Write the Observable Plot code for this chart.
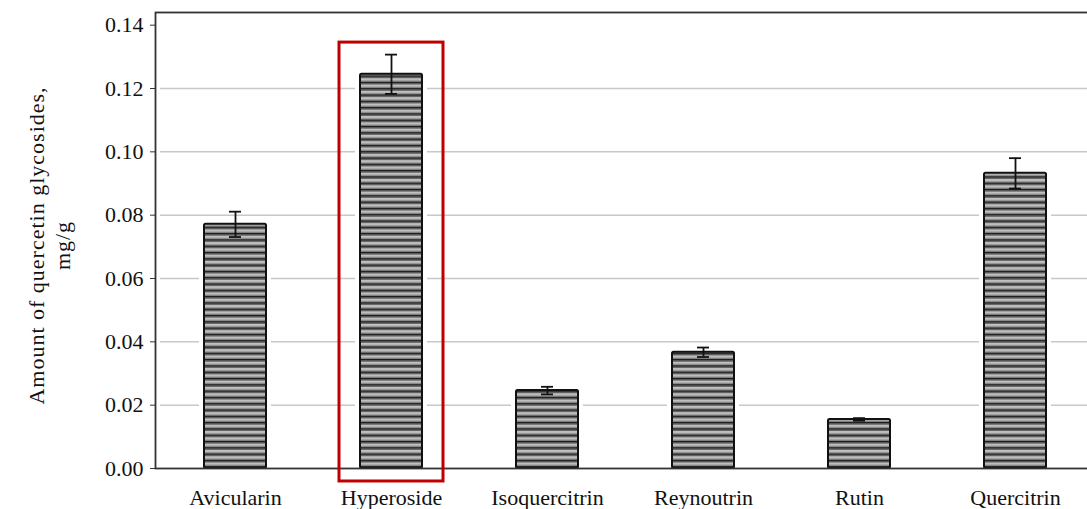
<!DOCTYPE html>
<html>
<head>
<meta charset="utf-8">
<script src="https://cdn.jsdelivr.net/npm/d3@7"></script>
<script src="https://cdn.jsdelivr.net/npm/@observablehq/plot@0.6"></script>
<style>
  html, body { margin: 0; padding: 0; background: #fff; overflow: hidden; }
  svg text { font-family: 'Liberation Serif', 'Times New Roman', serif; }
</style>
</head>
<body>
<div id="chart"></div>
<script>
const compounds = ["Avicularin", "Hyperoside", "Isoquercitrin", "Reynoutrin", "Rutin", "Quercitrin"];
const amounts = [0.0771, 0.1245, 0.0246, 0.0367, 0.0155, 0.0932];
const errors = [0.0040, 0.0062, 0.0012, 0.0015, 0.0004, 0.0048];
const yTicks = [0, 0.02, 0.04, 0.06, 0.08, 0.10, 0.12, 0.14];
const gridTicks = [0.02, 0.04, 0.06, 0.08, 0.10, 0.12];
const highlighted = ["Hyperoside"];
const highlightRange = [-0.0041, 0.1345];
const yLabel = "Amount of quercetin glycosides,\nmg/g";

const data = compounds.map((c, i) => ({name: c, value: amounts[i], lo: amounts[i] - errors[i], hi: amounts[i] + errors[i]}));
const hl = highlighted.map(n => ({name: n, y1: highlightRange[0], y2: highlightRange[1]}));

const font = "'Liberation Serif', 'Times New Roman', serif";

const plot = Plot.plot({
  width: 1087,
  height: 509,
  marginLeft: 155,
  marginRight: -8,
  marginTop: 12,
  marginBottom: 41,
  style: {fontFamily: font, fontSize: "21px", color: "#111", background: "#fff", overflow: "visible"},
  x: {domain: compounds, paddingInner: 0.6, paddingOuter: 0.3, align: 0.5, label: null},
  y: {domain: [0, 0.144], label: null},
  marks: [
    Plot.ruleY(gridTicks, {stroke: "#c8c8c8", strokeWidth: 1.5, insetLeft: 5}),
    Plot.barY(data, {x: "name", y: "value", fill: "white", insetLeft: -5, insetRight: -5}),
    Plot.barY(data, {x: "name", y: "value", fill: "url(#stripes)", stroke: "#111", strokeWidth: 2, rx: 1.5}),
    Plot.ruleX(data, {x: "name", y1: "lo", y2: "hi", stroke: "#111", strokeWidth: 1.8}),
    Plot.tickY(data, {x: "name", y: "hi", stroke: "#111", strokeWidth: 1.8, insetLeft: 25, insetRight: 25}),
    Plot.tickY(data, {x: "name", y: "lo", stroke: "#111", strokeWidth: 1.8, insetLeft: 25, insetRight: 25}),
    Plot.axisY(yTicks, {tickSize: 5, tickPadding: 7, tickFormat: d3.format(".2f"), stroke: "#333", fontSize: 22, fontFamily: font, fill: "#111"}),
    Plot.axisX({tickSize: 0, tickPadding: 21, fontSize: 22, fontFamily: font, fill: "#111"}),
    Plot.frame({stroke: "#333", strokeWidth: 1.8}),
    Plot.barY(hl, {x: "name", y1: "y1", y2: "y2", fill: "none", stroke: "#c00000", strokeWidth: 3, insetLeft: -21, insetRight: -21}),
    Plot.text([yLabel], {frameAnchor: "left", dx: -107, dy: 5, rotate: -90, textAnchor: "middle", fontSize: 22, fontFamily: font, lineHeight: 1.2, fill: "#111", text: d => d, className: "ylab"})
  ]
});

d3.select(plot).selectAll(".ylab text").style("letter-spacing", "1px");

// Define stripe pattern
const ns = "http://www.w3.org/2000/svg";
const defs = document.createElementNS(ns, "defs");
const pat = document.createElementNS(ns, "pattern");
pat.setAttribute("id", "stripes");
pat.setAttribute("patternUnits", "userSpaceOnUse");
pat.setAttribute("width", "10");
pat.setAttribute("height", "6.3");
const stripes = [["#1a1a1a", 0, 1.6], ["#6a6a6a", 1.6, 1.2], ["#bdbdbd", 2.8, 2.0], ["#7a7a7a", 4.8, 1.5]];
for (const [c, y, h] of stripes) {
  const r = document.createElementNS(ns, "rect");
  r.setAttribute("x", 0); r.setAttribute("y", y);
  r.setAttribute("width", 10); r.setAttribute("height", h);
  r.setAttribute("fill", c);
  pat.appendChild(r);
}
defs.appendChild(pat);
plot.insertBefore(defs, plot.firstChild);

document.getElementById("chart").appendChild(plot);
</script>
</body>
</html>
